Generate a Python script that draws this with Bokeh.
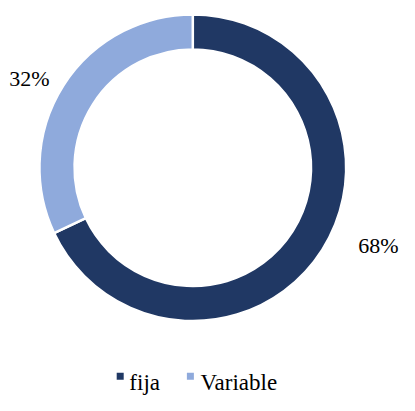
import numpy as np
from bokeh.plotting import figure
from bokeh.models import Range1d
from bokeh.core.properties import value
from bokeh.embed import file_html
from bokeh.resources import INLINE

# Data
categories = ["fija", "Variable"]
shares = [68, 32]
labels = ["68%", "32%"]
colors = ["#203864", "#8FAADC"]

# figure is drawn in reference pixel units (415 x 411), scaled into the page
REF_W, REF_H = 415, 411
W, H = 399, 395

def py(ref_y):
    return REF_H - ref_y

p = figure(width=W, height=H, output_backend="svg", toolbar_location=None,
           x_range=Range1d(0, REF_W), y_range=Range1d(0, REF_H),
           min_border=0)
p.axis.visible = False
p.grid.visible = False
p.outline_line_color = None
p.background_fill_color = "white"
p.border_fill_color = "white"

cx, cy = 200, py(174)
r_out, r_in = 159.5, 123

total = float(sum(shares))
# first slice goes clockwise from 12 o'clock
ang = np.deg2rad(90.0)
for cat, s, col in zip(categories, shares, colors):
    sweep = 2 * np.pi * s / total
    start = ang - sweep
    end = ang
    p.annular_wedge(x=cx, y=cy, inner_radius=r_in, outer_radius=r_out,
                    start_angle=start, end_angle=end, direction="anticlock",
                    fill_color=col, line_color="white", line_width=2.5)
    ang = start

fs = "22px"
# percentage labels
lab_x = [372, 9]
lab_y = [py(255), py(81)]
p.text(x=lab_x, y=lab_y, text=labels, text_font=value("Liberation Serif"),
       text_font_size=fs, text_color="#000000", text_align="left",
       text_baseline="middle")

# legend
sq_x = [124.5, 197.5]
sq_y = [py(391), py(391)]
p.scatter(x=sq_x, y=sq_y, marker="square", size=7, fill_color=colors, line_color=None)
p.text(x=[134, 208], y=[py(397), py(397)], text=categories,
       text_font=value("Liberation Serif"), text_font_size="23px",
       text_color="#000000", text_align="left", text_baseline="alphabetic")

open("out.html", "w").write(file_html(p, INLINE))
